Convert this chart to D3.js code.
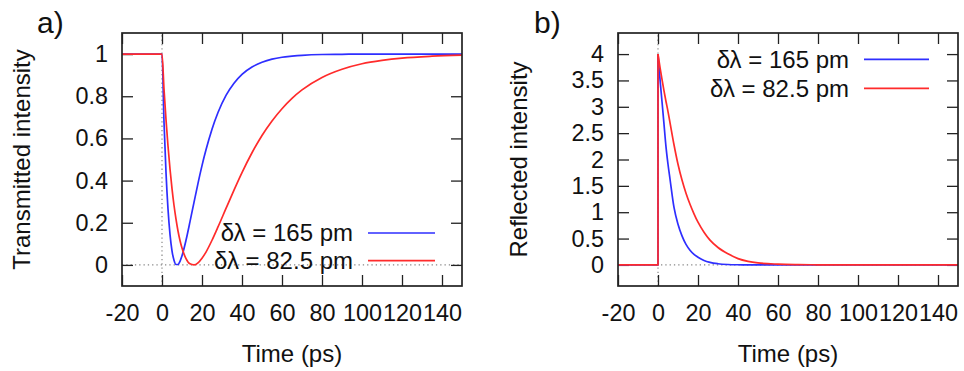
<!DOCTYPE html>
<html><head><meta charset="utf-8">
<script src="https://cdn.jsdelivr.net/npm/d3@7"></script>
<style>
html,body{margin:0;padding:0;background:#fff;}
svg text{font-family:"Liberation Sans",Arial,sans-serif;fill:#111;}
</style></head>
<body><svg id="c" width="964" height="371"></svg>
<script>
// ---- data ----
const seriesNames = ["δλ = 165 pm", "δλ = 82.5 pm"];
const seriesColors = ["#2e2eff", "#ff2b2b"];

// Panel a: transmitted intensity
const timeA = [-20, 0, 1, 2, 3, 4, 5, 6, 7, 8, 9, 10, 12, 14, 16, 18, 20, 22, 25, 28, 32, 36, 40, 45, 50, 55, 60, 65, 70, 80, 90, 100, 110, 120, 135, 150];
const transBlue = [1, 1, 0.678, 0.438, 0.265, 0.145, 0.067, 0.022, 0.002, 0.002, 0.017, 0.043, 0.117, 0.205, 0.297, 0.387, 0.471, 0.546, 0.644, 0.723, 0.804, 0.862, 0.904, 0.939, 0.961, 0.976, 0.985, 0.990, 0.994, 0.998, 0.999, 1.0, 1.0, 1.0, 1.0, 1.0];
const transRed = [1, 1, 0.834, 0.689, 0.564, 0.455, 0.362, 0.283, 0.217, 0.161, 0.116, 0.080, 0.030, 0.005, 0.0003, 0.010, 0.032, 0.061, 0.117, 0.180, 0.268, 0.355, 0.438, 0.532, 0.614, 0.683, 0.741, 0.790, 0.830, 0.889, 0.928, 0.954, 0.970, 0.981, 0.990, 0.995];

// Panel b: reflected intensity
const timeB = [-20, 0, 0, 1, 2, 3, 4, 5, 6, 8, 10, 12, 14, 16, 18, 20, 23, 26, 30, 35, 40, 45, 50, 60, 70, 80, 100, 150];
const reflBlue = [0, 0, 4, 3.52, 3.10, 2.67, 2.24, 1.91, 1.63, 1.09, 0.77, 0.55, 0.39, 0.28, 0.20, 0.145, 0.083, 0.047, 0.022, 0.008, 0.003, 0.001, 0, 0, 0, 0, 0, 0];
const reflRed = [0, 0, 4, 3.75, 3.52, 3.30, 3.10, 2.91, 2.70, 2.28, 1.91, 1.61, 1.36, 1.15, 0.97, 0.81, 0.62, 0.47, 0.33, 0.21, 0.12, 0.068, 0.038, 0.015, 0.006, 0.002, 0, 0];

const xTicks = [-20, 0, 20, 40, 60, 80, 100, 120, 140];
const xTickLabels = ["-20", "0", "20", "40", "60", "80", "100", "120", "140"];
const yTicksA = [0, 0.2, 0.4, 0.6, 0.8, 1];
const yTickLabelsA = ["0", "0.2", "0.4", "0.6", "0.8", "1"];
const yTicksB = [0, 0.5, 1, 1.5, 2, 2.5, 3, 3.5, 4];
const yTickLabelsB = ["0", "0.5", "1", "1.5", "2", "2.5", "3", "3.5", "4"];

// ---- drawing ----
const svg = d3.select("#c");
const TICK = 11;

function panel(cfg) {
  const x = d3.scaleLinear().domain([-20, 150]).range([cfg.left, cfg.right]);
  const y = d3.scaleLinear().domain(cfg.ydom).range([286, 33]);
  const g = svg.append("g");

  // zero dotted axes
  g.append("line").attr("x1", x(0)).attr("x2", x(0)).attr("y1", y.range()[0]).attr("y2", y.range()[1])
    .attr("stroke", "#888").attr("stroke-width", 1.2).attr("stroke-dasharray", "1.3,3");
  g.append("line").attr("x1", cfg.left).attr("x2", cfg.right).attr("y1", y(0)).attr("y2", y(0))
    .attr("stroke", "#888").attr("stroke-width", 1.2).attr("stroke-dasharray", "1.3,3");

  // axes
  const fmtX = d => xTickLabels[xTicks.indexOf(d)];
  const fmtY = d => cfg.ylabels[cfg.yticks.indexOf(d)];
  const ax = [
    g.append("g").attr("transform", `translate(0,286)`).call(d3.axisBottom(x).tickValues(xTicks).tickSize(-TICK).tickPadding(18).tickFormat(fmtX)),
    g.append("g").attr("transform", `translate(0,33)`).call(d3.axisTop(x).tickValues(xTicks).tickSize(-TICK).tickFormat("")),
    g.append("g").attr("transform", `translate(${cfg.left},0)`).call(d3.axisLeft(y).tickValues(cfg.yticks).tickSize(-TICK).tickPadding(14).tickFormat(fmtY)),
    g.append("g").attr("transform", `translate(${cfg.right},0)`).call(d3.axisRight(y).tickValues(cfg.yticks).tickSize(-TICK).tickFormat(""))
  ];
  ax.forEach(a => {
    a.select(".domain").remove();
    a.selectAll(".tick line").attr("stroke", "#222").attr("stroke-width", 1.3);
    a.selectAll("text").attr("font-size", 23.4).attr("fill", "#111").attr("font-family", '"Liberation Sans",Arial,sans-serif');
  });

  // curves
  const clip = "clip" + cfg.id;
  svg.append("clipPath").attr("id", clip).append("rect")
    .attr("x", cfg.left).attr("y", 33).attr("width", cfg.right - cfg.left).attr("height", 253);
  const cg = g.append("g").attr("clip-path", `url(#${clip})`);
  cfg.series.forEach((vals, i) => {
    const pts = cfg.time.map((t, k) => [t, vals[k]]);
    let segs;
    if (cfg.step) { segs = [[pts.slice(0, 3), d3.curveLinear], [pts.slice(2), d3.curveMonotoneX]]; }
    else { segs = [[pts, d3.curveMonotoneX]]; }
    segs.forEach(([p, c]) => {
      cg.append("path").attr("d", d3.line().x(d => x(d[0])).y(d => y(d[1])).curve(c)(p))
        .attr("fill", "none").attr("stroke", seriesColors[i]).attr("stroke-width", 1.7)
        .attr("stroke-linejoin", "round");
    });
  });

  // frame
  g.append("rect").attr("x", cfg.left).attr("y", 33).attr("width", cfg.right - cfg.left).attr("height", 253)
    .attr("fill", "none").attr("stroke", "#222").attr("stroke-width", 1.7);

  // legend
  seriesNames.forEach((name, i) => {
    const ly = cfg.legY[i];
    g.append("text").attr("x", cfg.legTextRight).attr("y", ly).attr("dy", "0.35em")
      .attr("text-anchor", "end").attr("font-size", 24).text(name);
    g.append("line").attr("x1", cfg.legLine[0]).attr("x2", cfg.legLine[1]).attr("y1", ly).attr("y2", ly)
      .attr("stroke", seriesColors[i]).attr("stroke-width", 1.7);
  });

  // axis titles
  g.append("text").attr("x", (cfg.left + cfg.right) / 2).attr("y", 362).attr("text-anchor", "middle")
    .attr("font-size", 24).text("Time (ps)");
  g.append("text").attr("transform", `translate(${cfg.ytitleX},159.5) rotate(-90)`).attr("text-anchor", "middle")
    .attr("font-size", 24).text(cfg.ytitle);

  // panel label
  svg.append("text").attr("x", cfg.labelX).attr("y", 33).attr("font-size", 30)
    .attr("font-family", "Lato,'Open Sans',sans-serif").text(cfg.label);
}

panel({id: "a", left: 122, right: 462, ydom: [-0.1, 1.1], yticks: yTicksA, ylabels: yTickLabelsA,
  time: timeA, series: [transBlue, transRed], step: false,
  legY: [233, 260.7], legTextRight: 353, legLine: [368, 435],
  ytitle: "Transmitted intensity", ytitleX: 30, label: "a)", labelX: 37});
panel({id: "b", left: 618, right: 958, ydom: [-0.4, 4.4], yticks: yTicksB, ylabels: yTickLabelsB,
  time: timeB, series: [reflBlue, reflRed], step: true,
  legY: [59.3, 88.3], legTextRight: 849, legLine: [864, 929],
  ytitle: "Reflected intensity", ytitleX: 527, label: "b)", labelX: 534});
</script></body></html>
